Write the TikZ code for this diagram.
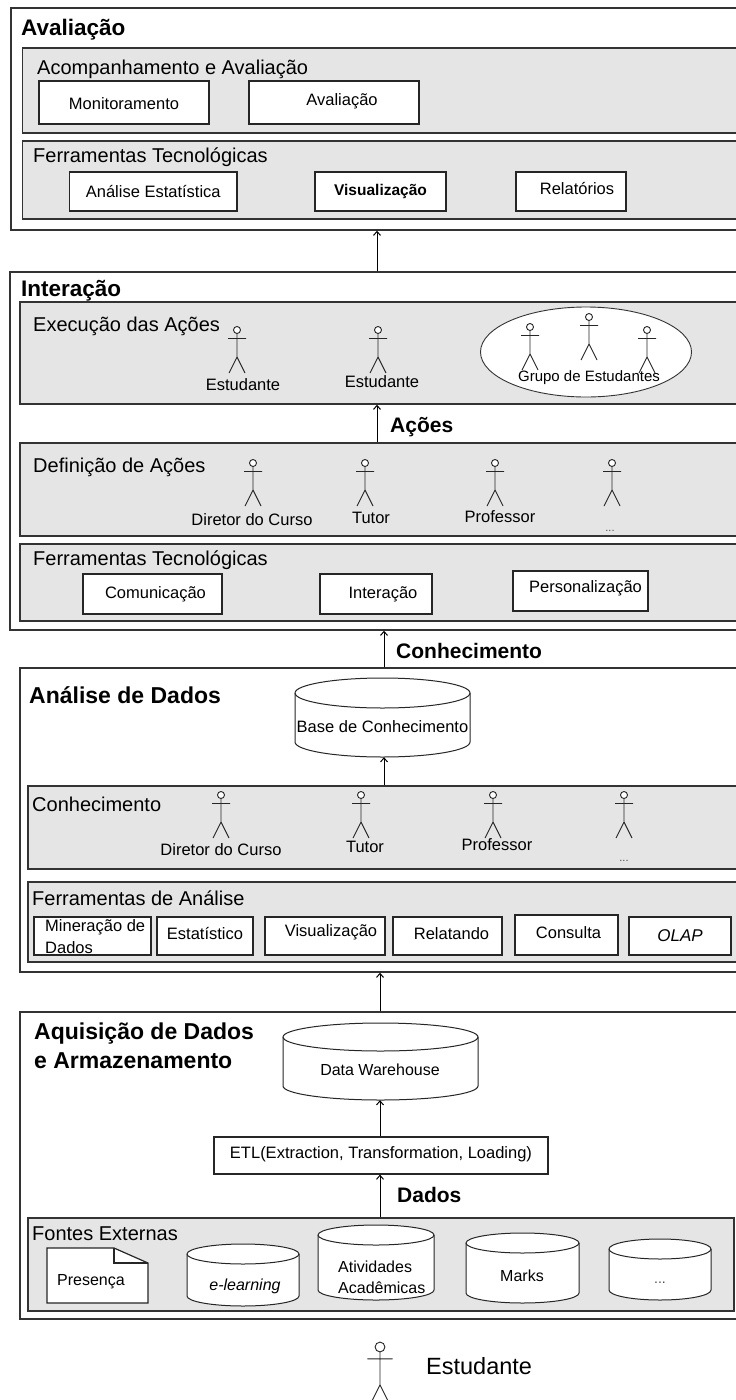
\documentclass[tikz,border=0pt]{standalone}
\usepackage{fontspec}
\setmainfont{Liberation Sans}
\usetikzlibrary{arrows.meta,fit,shapes.geometric}
\tikzset{
  outerbox/.style={draw=black!80, line width=1.4pt, inner sep=0pt},
  panel/.style={draw=black!80, line width=1.4pt, fill=black!10, inner sep=0pt},
  itembox/.style={draw=black!85, line width=1.2pt, fill=white, inner sep=0pt},
  itemtext/.style={inner sep=0pt, anchor=center, font=\fontsize{16.5}{19}\selectfont},
  sectitle/.style={anchor=base west, inner sep=0pt, font=\fontsize{22.5}{26}\selectfont\bfseries},
  bigtitle/.style={anchor=base west, inner sep=0pt, font=\fontsize{23}{27}\selectfont\bfseries},
  paneltitle/.style={anchor=base west, inner sep=0pt, font=\fontsize{20}{24}\selectfont},
  actlabel/.style={anchor=base, inner sep=0pt, font=\fontsize{16.5}{19}\selectfont},
  plainlabel/.style={anchor=base west, inner sep=0pt, font=\fontsize{16.5}{19}\selectfont},
  dotslabel/.style={anchor=base, inner sep=0pt, font=\fontsize{11}{13}\selectfont, text=black!70},
  flowlabel/.style={anchor=base west, inner sep=0pt, font=\fontsize{21}{25}\selectfont\bfseries},
  conn/.style={draw=black, line width=1pt, -{Straight Barb[length=4pt,width=7pt]}},
  figline/.style={draw=black!85, line width=0.9pt},
  cylline/.style={draw=black!85, line width=1pt},
}
% name, L, T, R, B, rx, ry
\newcommand\dbcyl[7]{%
  \path[cylline, fill=white] (#2,#3+#7) -- (#2,#5-#7)
     arc[start angle=180, end angle=360, x radius=#6pt, y radius=#7pt]
     -- (#4,#3+#7)
     arc[start angle=0, end angle=180, x radius=#6pt, y radius=#7pt] -- cycle;
  \draw[cylline] (#2,#3+#7) arc[start angle=180, end angle=360, x radius=#6pt, y radius=#7pt];
  \node[fit={(#2,#3)(#4,#5)}, inner sep=0pt] (#1) {};
}
% x, y (head centre), scale, name
\newcommand\stickman[4]{%
  \coordinate (#4) at (#1,#2);
  \begin{scope}[shift={(#1,#2)}, scale=#3]
    \draw[figline, fill=white] (0,0) circle[radius=3.5];
    \draw[figline] (0,3.5) -- (0,27) (-9,8.5) -- (9,8.5) (-8,43) -- (0,27) -- (8,43);
  \end{scope}
}
\begin{document}
\begin{tikzpicture}[x=1pt,y=-1pt]
\useasboundingbox (0,0) rectangle (736,1400);
\clip (0,0) rectangle (736,1400);
\fill[white] (0,0) rectangle (736,1400);

\coordinate (ax1) at (377,0);
\coordinate (ax2) at (384,0);
\coordinate (ax3) at (380,0);

% ---------------- Avaliação ----------------
\node[outerbox, fit={(11,8)(760,230)}] (aval) {};
\node[sectitle] (avalT) at (21,35) {Avaliação};
\node[panel, fit={(22.5,48)(760,133)}] (acomp) {};
\node[paneltitle] (acompT) at (37,74) {Acompanhamento e Avaliação};
\node[itembox, fit={(39,81)(209,124)}] (monit) {};
\node[itemtext, yshift=-1pt] (monitL) at (monit.center) {Monitoramento};
\node[itembox, fit={(249,81)(419,124)}] (avalbox) {};
\node[itemtext, xshift=8pt, yshift=1pt] (avalboxL) at (avalbox.center) {Avaliação};
\node[panel, fit={(22.5,141)(760,219)}] (ferrA) {};
\node[paneltitle] (ferrAT) at (33,162) {Ferramentas Tecnológicas};
\node[itembox, fit={(69.5,172)(237,211)}] (estat) {};
\node[itemtext] (estatL) at (estat.center) {Análise Estatística};
\node[itembox, fit={(315,172)(446,211)}] (visA) {};
\node[itemtext, font=\fontsize{15.5}{18}\selectfont\bfseries] (visAL) at (visA.center) {Visualização};
\node[itembox, fit={(516,172)(626,211)}] (relat) {};
\node[itemtext, xshift=6pt, yshift=3pt] (relatL) at (relat.center) {Relatórios};

% ---------------- Interação ----------------
\node[outerbox, fit={(10,272)(760,630)}] (inter) {};
\node[sectitle] (interT) at (21,296) {Interação};
\node[panel, fit={(20,302)(760,404)}] (exec) {};
\node[paneltitle] (execT) at (33,331) {Execução das Ações};
\stickman{237}{330}{1}{e1}
\stickman{378}{330}{1}{e2}
\node[actlabel] (e1L) at (243,390) {Estudante};
\node[actlabel] (e2L) at (382,387) {Estudante};
\node[ellipse, draw=black!80, line width=0.9pt, fill=white, minimum width=211pt, minimum height=90pt, inner sep=0pt] (grp) at (586,352) {};
\stickman{530}{327}{1}{g1}
\stickman{589}{317}{1}{g2}
\stickman{647}{330}{1}{g3}
\node[actlabel, font=\fontsize{15}{18}\selectfont] (grpL) at (589,381) {Grupo de Estudantes};

\node[panel, fit={(20,443)(760,536)}] (defin) {};
\node[paneltitle] (definT) at (33,472) {Definição de Ações};
\stickman{253}{463}{1}{d1}
\stickman{365}{463}{1}{d2}
\stickman{495}{463}{1}{d3}
\stickman{612}{463}{1}{d4}
\node[actlabel] (d1L) at (252,525) {Diretor do Curso};
\node[actlabel] (d2L) at (371,523) {Tutor};
\node[actlabel] (d3L) at (500,522) {Professor};
\node[dotslabel] (d4L) at (610,531) {...};

\node[panel, fit={(20,544)(760,621)}] (ferrI) {};
\node[paneltitle] (ferrIT) at (33,565) {Ferramentas Tecnológicas};
\node[itembox, fit={(83,574)(222,614)}] (comun) {};
\node[itemtext, xshift=3pt] (comunL) at (comun.center) {Comunicação};
\node[itembox, fit={(320,574)(432,614)}] (interb) {};
\node[itemtext, xshift=7pt] (interbL) at (interb.center) {Interação};
\node[itembox, fit={(513,571)(648,611)}] (perso) {};
\node[itemtext, xshift=5pt, yshift=3pt] (persoL) at (perso.center) {Personalização};

% ---------------- Análise de Dados ----------------
\node[outerbox, fit={(20,668)(760,972)}] (anal) {};
\node[bigtitle] (analT) at (29,703) {Análise de Dados};
\dbcyl{kb}{295}{678}{470}{757}{87.5}{15}
\node[actlabel] (kbL) at (382.5,732) {Base de Conhecimento};

\node[panel, fit={(28,786)(760,869)}] (conhec) {};
\node[paneltitle] (conhecT) at (32,811) {Conhecimento};
\stickman{221}{795}{1}{k1}
\stickman{361}{795}{1}{k2}
\stickman{493}{795}{1}{k3}
\stickman{624}{795}{1}{k4}
\node[actlabel] (k1L) at (221,855) {Diretor do Curso};
\node[actlabel] (k2L) at (365,852) {Tutor};
\node[actlabel] (k3L) at (497,850) {Professor};
\node[dotslabel] (k4L) at (624,861) {...};

\node[panel, fit={(28,882)(760,962)}] (ferrAn) {};
\node[paneltitle] (ferrAnT) at (32,905) {Ferramentas de Análise};
\node[itembox, fit={(34,917)(151,955)}] (miner) {};
\node[plainlabel] (minerL1) at (45,931) {Mineração de};
\node[plainlabel] (minerL2) at (45,953) {Dados};
\node[itembox, fit={(157,917)(253,955)}] (estatb) {};
\node[itemtext, yshift=3pt] (estatbL) at (estatb.center) {Estatístico};
\node[itembox, fit={(265,917)(385,955)}] (visB) {};
\node[itemtext, xshift=6pt, yshift=4pt] (visBL) at (visB.center) {Visualização};
\node[itembox, fit={(393,917)(502,955)}] (relatb) {};
\node[itemtext, xshift=4pt, yshift=2pt] (relatbL) at (relatb.center) {Relatando};
\node[itembox, fit={(515,915)(618,955)}] (consul) {};
\node[itemtext, xshift=2pt, yshift=2pt] (consulL) at (consul.center) {Consulta};
\node[itembox, fit={(629,917)(731,955)}] (olap) {};
\node[itemtext, font=\fontsize{17}{19}\selectfont\itshape] (olapL) at (olap.center) {OLAP};

% ---------------- Aquisição ----------------
\node[outerbox, fit={(20,1012)(760,1319)}] (aquis) {};
\node[bigtitle] (aquisT1) at (34,1039) {Aquisição de Dados};
\node[bigtitle] (aquisT2) at (34,1068) {e Armazenamento};
\dbcyl{dw}{283}{1023}{478}{1100}{97.5}{14}
\node[actlabel, font=\fontsize{16}{19}\selectfont] (dwL) at (380,1075) {Data Warehouse};
\node[itembox, fit={(214,1137)(548,1174)}] (etl) {};
\node[itemtext, yshift=1pt] (etlL) at (etl.center) {ETL(Extraction, Transformation, Loading)};

\node[panel, fit={(28,1218)(734,1311)}] (fontes) {};
\node[paneltitle] (fontesT) at (32,1240) {Fontes Externas};
\draw[cylline, line width=1.2pt, fill=white] (47,1248) -- (114,1248) -- (148,1263) -- (148,1303) -- (47,1303) -- cycle;
\draw[cylline, line width=1.2pt] (114,1248) -- (114,1263) -- (148,1263);
\node[fit={(47,1248)(148,1303)}, inner sep=0pt] (pres) {};
\node[plainlabel, font=\fontsize{16}{19}\selectfont] (presL) at (57,1285) {Presença};
\dbcyl{elearn}{187}{1244}{299}{1306}{56}{10}
\node[actlabel, font=\fontsize{16}{19}\selectfont\itshape] (elearnL) at (245,1290) {e-learning};
\dbcyl{ativ}{318}{1225}{434}{1300}{58}{10}
\node[plainlabel, font=\fontsize{16}{19}\selectfont] (ativL1) at (338,1272) {Atividades};
\node[plainlabel, font=\fontsize{16}{19}\selectfont] (ativL2) at (338,1293) {Acadêmicas};
\dbcyl{marks}{466}{1233}{579}{1303}{56.5}{10}
\node[actlabel, font=\fontsize{16}{19}\selectfont] (marksL) at (522,1281) {Marks};
\dbcyl{other}{609}{1239}{711}{1300}{51}{10}
\node[dotslabel, font=\fontsize{14}{16}\selectfont] (otherL) at (660,1283) {...};

% ---------------- Estudante ----------------
\stickman{380}{1347}{1.4}{stud}
\node[anchor=base west, inner sep=0pt, font=\fontsize{23.5}{27}\selectfont] (studL) at (426,1374) {Estudante};

% ---------------- connectors ----------------
\draw[conn] (inter.north -| ax1) -- (aval.south -| ax1);
\draw[conn] (defin.north -| ax1) -- (exec.south -| ax1);
\node[flowlabel] (acoesL) at (390,432) {Ações};
\draw[conn] (anal.north -| ax2) -- (inter.south -| ax2);
\node[flowlabel] (conhL) at (396,658) {Conhecimento};
\draw[conn] (conhec.north -| ax2) -- (kb.south -| ax2);
\draw[conn] (aquis.north -| ax3) -- (anal.south -| ax3);
\draw[conn] (etl.north -| ax3) -- (dw.south -| ax3);
\draw[conn] (fontes.north -| ax3) -- (etl.south -| ax3);
\node[flowlabel] (dadosL) at (397,1202) {Dados};
\end{tikzpicture}
\end{document}
